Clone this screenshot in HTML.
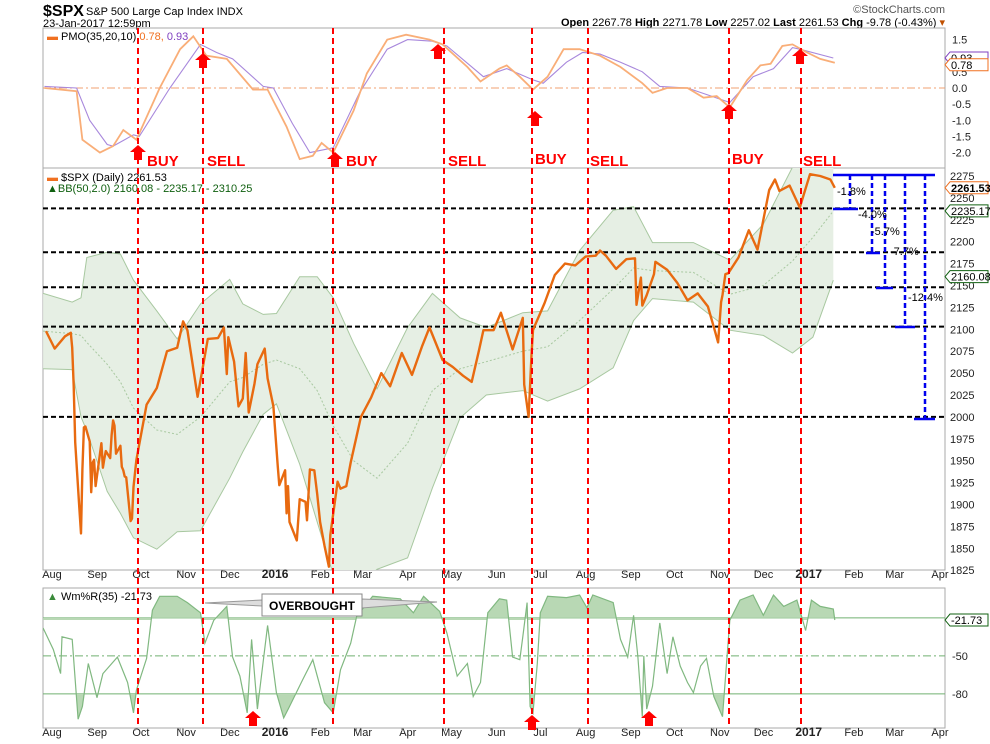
<!DOCTYPE html>
<html><head><meta charset="utf-8"><style>
body{margin:0;background:#fff;font-family:"Liberation Sans",sans-serif}
svg{display:block}
text{font-family:"Liberation Sans",sans-serif}
</style></head><body>
<svg id="c" width="990" height="744" viewBox="0 0 990 744">
<defs>
<clipPath id="cpP"><rect x="43" y="28" width="902" height="140"/></clipPath>
<clipPath id="cpM"><rect x="43" y="168" width="902" height="402"/></clipPath>
<clipPath id="cpW"><rect x="43" y="588" width="902" height="140"/></clipPath>
<clipPath id="cpWtop"><rect x="43" y="588" width="902" height="32"/></clipPath>
<clipPath id="cpWbot"><rect x="43" y="694" width="902" height="34"/></clipPath>
</defs>
<g>
<text x="43" y="16" font-size="16" font-weight="bold">$SPX</text>
<text x="86" y="15" font-size="11">S&amp;P 500 Large Cap Index  INDX</text>
<text x="43" y="27" font-size="11">23-Jan-2017 12:59pm</text>
<text x="945" y="13" font-size="11" fill="#555" text-anchor="end">©StockCharts.com</text>
<text x="945" y="26" font-size="11" text-anchor="end"><tspan font-weight="bold">Open</tspan> 2267.78 <tspan font-weight="bold">High</tspan> 2271.78 <tspan font-weight="bold">Low</tspan> 2257.02 <tspan font-weight="bold">Last</tspan> 2261.53 <tspan font-weight="bold">Chg</tspan> -9.78 (-0.43%) <tspan fill="#c05000">▾</tspan></text>
</g>
<g id="frames"></g>
<g id="pmo" clip-path="url(#cpP)"></g>
<g id="main" clip-path="url(#cpM)"></g>
<g id="wr" clip-path="url(#cpW)"></g>
<g id="axes"></g>
<g id="annot"></g>
</svg>
<script>
const NS="http://www.w3.org/2000/svg";
// ---- data (x = days since 1-Aug-2015) ----
const priceDays=[0,6,13,17,18,19,20,23,24,25,26,27,30,31,32,33,34,38,39,40,41,44,45,46,47,48,51,52,53,54,55,58,59,60,62,69,76,83,90,94,97,104,111,118,122,124,125,129,132,135,137,139,143,145,150,152,156,159,160,164,165,166,167,172,174,178,179,181,184,186,188,191,194,195,200,202,206,209,213,216,223,230,236,244,251,258,263,272,279,286,292,297,300,307,312,320,327,328,331,332,333,334,335,342,349,356,363,370,377,380,384,391,398,404,405,408,409,412,417,418,426,433,440,447,454,459,461,463,464,466,468,475,482,488,496,500,503,510,517,524,531,538,541];
const priceVals=[2098,2078,2092,2096,2079,2035,1971,1893,1867,1940,1988,1989,1972,1914,1948,1951,1921,1970,1942,1952,1961,1953,1979,1996,1990,1958,1967,1943,1939,1932,1931,1881,1884,1920,1951,2014,2033,2075,2079,2109,2099,2023,2089,2090,2102,2049,2091,2063,2012,2021,2073,2005,2038,2060,2078,2044,2012,1943,1922,1939,1890,1921,1880,1859,1906,1903,1882,1940,1939,1912,1880,1853,1829,1865,1926,1918,1921,1948,1978,2000,2022,2050,2035,2073,2048,2081,2102,2065,2057,2047,2040,2076,2099,2099,2119,2077,2113,2037,2000,2036,2071,2099,2103,2130,2162,2175,2173,2183,2184,2190,2184,2169,2180,2181,2128,2159,2127,2139,2163,2177,2168,2153,2133,2141,2126,2097,2085,2131,2139,2163,2164,2182,2213,2191,2259,2271,2258,2264,2239,2277,2275,2271,2261.53];
const bandDays=[-2,18,24,28,42,51,60,76,90,106,126,135,149,158,174,186,197,211,227,248,265,284,302,327,344,366,389,403,416,444,469,492,512,526,540];
const bandUpper=[2141,2131,2136,2182,2188,2186,2156,2121,2089,2129,2157,2129,2117,2118,2160,2160,2136,2084,2032,2102,2141,2113,2102,2119,2121,2190,2236,2240,2199,2199,2179,2220,2285,2300,2310];
const bandLower=[2055,2054,2000,1984,1915,1890,1862,1849,1869,1870,1930,1960,2003,2015,1946,1880,1820,1800,1826,1839,1919,1999,2025,2030,2018,2032,2056,2110,2135,2131,2099,2093,2073,2091,2156];
const bandMid=[2098,2095,2093,2085,2060,2040,2010,1985,1980,2000,2040,2045,2060,2065,2055,2030,1990,1950,1930,1970,2030,2055,2063,2075,2080,2110,2146,2170,2167,2165,2140,2150,2178,2205,2235];
const pmoDays=[-1,21,25,37,46,53,62,78,92,101,110,124,142,152,165,174,183,189,197,211,220,234,247,263,272,289,298,311,316,325,334,344,355,366,380,394,409,416,426,440,451,460,469,481,490,497,505,512,522,531,541];
const pmoVals=[0.0,-0.1,-1.6,-2.0,-1.8,-1.3,-1.6,0.0,1.2,1.6,1.0,0.9,-0.05,-0.05,-1.2,-2.2,-2.1,-1.7,-2.0,-0.7,0.45,1.5,1.65,1.5,1.35,0.65,0.2,0.6,0.7,0.35,-0.05,0.35,1.2,1.2,1.0,0.65,0.15,-0.15,0.0,0.0,-0.3,-0.25,-0.6,0.25,0.7,0.75,1.3,1.35,1.1,0.9,0.78];
const sigDays=[-1,21,30,42,46,60,64,85,106,117,128,149,156,169,181,197,215,234,248,265,275,300,316,334,341,357,368,380,394,409,421,440,453,469,485,499,512,517,540];
const sigVals=[0.05,0.0,-1.0,-1.75,-1.8,-1.45,-1.5,0.0,1.35,1.1,0.9,0.05,0.0,-1.1,-2.0,-1.85,-0.15,1.2,1.5,1.45,1.3,0.35,0.6,0.25,0.15,0.8,1.1,1.05,0.8,0.5,0.05,0.0,-0.2,-0.45,0.35,0.6,1.25,1.2,0.93];
const wrDays=[-2,5,10,11,18,22,25,29,35,39,49,56,60,62,69,73,78,90,97,106,109,115,124,128,133,138,141,145,152,158,163,167,176,183,191,197,202,209,213,224,243,252,259,270,275,282,289,293,298,303,311,316,320,325,327,330,332,334,337,339,344,357,366,371,375,389,394,399,403,406,409,410,412,416,421,426,430,435,440,444,449,453,458,464,469,476,485,492,499,506,515,521,525,531,540,541];
const wrVals=[-28,-45,-64,-35,-37,-100,-90,-56,-83,-64,-51,-71,-95,-77,-52,-14,-3,-3,-8,-16,-40,-22,-11,-51,-66,-95,-37,-92,-26,-79,-99,-90,-69,-53,-87,-95,-61,-40,-19,-3,-5,-16,-3,-15,-32,-66,-56,-82,-71,-16,-5,-6,-51,-53,-35,-8,-90,-95,-56,-16,-3,-4,-2,-12,-2,-8,-37,-51,-18,-51,-98,-50,-92,-74,-24,-64,-35,-58,-71,-79,-58,-52,-82,-98,-22,-6,-2,-18,-2,-11,-6,-30,-6,-11,-13,-21.73];
const monthDays=[0,31,61,92,122,153,184,213,244,274,305,335,366,397,427,458,488,519,550,578,609];
const monthLabels=["Aug","Sep","Oct","Nov","Dec","2016","Feb","Mar","Apr","May","Jun","Jul","Aug","Sep","Oct","Nov","Dec","2017","Feb","Mar","Apr"];
const priceTicks=[2275,2250,2225,2200,2175,2150,2125,2100,2075,2050,2025,2000,1975,1950,1925,1900,1875,1850,1825];
const pmoTicks=[1.5,1.0,0.5,0.0,-0.5,-1.0,-1.5,-2.0];
const supportLevels=[2238,2188,2148,2103,2000];
// ---- scales ----
const X=d=>46+d*1.458;
const Py=p=>176+(2275-p)*0.876;
const My=v=>88-v*32.3;
const Wy=v=>592.5-v*1.267;
function mk(tag,attrs,parent){const e=document.createElementNS(NS,tag);for(const k in attrs)e.setAttribute(k,attrs[k]);parent.appendChild(e);return e;}
const $=id=>document.getElementById(id);
function pts(ds,vs,fy){return ds.map((d,i)=>X(d).toFixed(1)+","+fy(vs[i]).toFixed(1)).join(" ");}
// frames
const fr=$("frames");
[[43,28,902,140],[43,168,902,402],[43,588,902,140]].forEach((r,i)=>{
 const e=mk("rect",{x:r[0],y:r[1],width:r[2],height:r[3],fill:"none",stroke:"#aaa"},fr);
 
 
});
// PMO
const pm=$("pmo");
let z=mk("line",{x1:43,x2:945,y1:My(0),y2:My(0),stroke:"#f0a070","stroke-dasharray":"8,3,2,3"},pm);

let sl=mk("polyline",{points:pts(sigDays,sigVals,My),fill:"none",stroke:"#a888dc","stroke-width":1.1},pm);

let pl=mk("polyline",{points:pts(pmoDays,pmoVals,My),fill:"none",stroke:"#f9ae78","stroke-width":1.8},pm);

let lg=mk("text",{x:47,y:40,"font-size":11},pm);lg.innerHTML='<tspan fill="#f07020">▬</tspan> PMO(35,20,10) <tspan fill="#f07020">0.78,</tspan> <tspan fill="#8040c0">0.93</tspan>';

// Main
const mn=$("main");
const bandPts=bandDays.map((d,i)=>X(d)+","+Py(bandUpper[i])).concat(bandDays.slice().reverse().map((d,j)=>{const i=bandDays.length-1-j;return X(d)+","+Py(bandLower[i]);})).join(" ");
let bf=mk("polygon",{points:bandPts,fill:"#e6efe4",stroke:"none"},mn);

let bu=mk("polyline",{points:pts(bandDays,bandUpper,Py),fill:"none",stroke:"#a8c8a0"},mn);

let bl=mk("polyline",{points:pts(bandDays,bandLower,Py),fill:"none",stroke:"#a8c8a0"},mn);

let bm=mk("polyline",{points:pts(bandDays,bandMid,Py),fill:"none",stroke:"#a8c8a0","stroke-dasharray":"2,2"},mn);

supportLevels.forEach(v=>{
 const e=mk("line",{x1:43,x2:945,y1:Py(v),y2:Py(v),stroke:"#000","stroke-width":2,"stroke-dasharray":"5,3"},mn);
 
});
let pr=mk("polyline",{points:pts(priceDays,priceVals,Py),fill:"none",stroke:"#e86a10","stroke-width":2.4,"stroke-linejoin":"round"},mn);

let l1=mk("text",{x:47,y:181,"font-size":11},mn);l1.innerHTML='<tspan fill="#f07020">▬</tspan> $SPX (Daily) 2261.53';

let l2=mk("text",{x:47,y:192,"font-size":11,fill:"#106010"},mn);l2.textContent='▲BB(50,2.0) 2160.08 - 2235.17 - 2310.25';

// Williams %R
const wr=$("wr");
[-20,-80].forEach(v=>{const e=mk("line",{x1:43,x2:945,y1:Wy(v),y2:Wy(v),stroke:"#70b070"},wr);
 });
let wm=mk("line",{x1:43,x2:945,y1:Wy(-50),y2:Wy(-50),stroke:"#70b070","stroke-dasharray":"8,3,2,3"},wr);

const wline=pts(wrDays,wrVals,Wy);
const x0=X(wrDays[0]),x1=X(wrDays[wrDays.length-1]);
let ft=mk("polygon",{points:x0+","+Wy(-20)+" "+wline+" "+x1+","+Wy(-20),fill:"#b8d8b4","clip-path":"url(#cpWtop)"},wr);

let fb=mk("polygon",{points:x0+","+Wy(-80)+" "+wline+" "+x1+","+Wy(-80),fill:"#b8d8b4","clip-path":"url(#cpWbot)"},wr);

let wl=mk("polyline",{points:wline,fill:"none",stroke:"#80b880","stroke-width":1.2},wr);

let l3=mk("text",{x:47,y:600,"font-size":11},wr);l3.innerHTML='<tspan fill="#3a8a3a">▲</tspan> Wm%R(35) -21.73';

// Axes
const ax=$("axes");
monthDays.forEach((d,i)=>{[578,736].forEach(y=>{
 const bold=monthLabels[i].length===4;
 const t=mk("text",{x:X(d)+6,y:y,"font-size":bold?12:11,"font-weight":bold?"bold":"normal","text-anchor":"middle",fill:"#222"},ax);
 t.textContent=monthLabels[i];
 
});
 [570,728].forEach(y=>{const tk=mk("line",{x1:X(d),x2:X(d),y1:y,y2:y+3,stroke:"#999"},ax);
 });
});
priceTicks.forEach(v=>{const t=mk("text",{x:950,y:Py(v)+4,"font-size":11,fill:"#222"},ax);t.textContent=v;
 });
pmoTicks.forEach(v=>{const t=mk("text",{x:952,y:My(v)+4,"font-size":11,fill:"#222"},ax);t.textContent=v.toFixed(1);
 });
[-50,-80].forEach(v=>{const t=mk("text",{x:952,y:Wy(v)+4,"font-size":11,fill:"#222"},ax);t.textContent=v;
 });
function tag(y,txt,col,bold,name){
 const g=mk("g",{},ax);
 
 mk("polygon",{points:`945,${y} 950,${y-6} 988,${y-6} 988,${y+6} 950,${y+6}`,fill:"#fff",stroke:col},g);
 const t=mk("text",{x:951,y:y+4,"font-size":11,"font-weight":bold?"bold":"normal",fill:"#000"},g);t.textContent=txt;
}
tag(My(0.93),"0.93","#8040c0",false,"pmo-signal-value-tag");
tag(My(0.78)+2,"0.78","#f07020",false,"pmo-value-tag");
tag(Py(2261.53),"2261.53","#f07020",true,"last-price-tag");
tag(Py(2235.17),"2235.17","#106010",false,"bb-middle-tag");
tag(Py(2160.08),"2160.08","#106010",false,"bb-lower-tag");
tag(Wy(-21.73),"-21.73","#106010",false,"wr-value-tag");
// Annotations
const an=$("annot");
[138,203,333,444,532,588,729,801].forEach(x=>{
 const e=mk("line",{x1:x,x2:x,y1:28,y2:728,stroke:"#f00","stroke-width":2,"stroke-dasharray":"6,4"},an);
 
});
[["BUY",147,166],["SELL",207,166],["BUY",346,166],["SELL",448,166],["BUY",535,164],["SELL",590,166],["BUY",732,164],["SELL",803,166]].forEach(s=>{
 const t=mk("text",{x:s[1],y:s[2],"font-size":15,"font-weight":"bold",fill:"#f00"},an);t.textContent=s[0];
 
});
function arrow(x,y,name){const e=mk("polygon",{points:`${x},${y} ${x+8},${y+7} ${x+4},${y+7} ${x+4},${y+15} ${x-4},${y+15} ${x-4},${y+7} ${x-8},${y+7}`,fill:"#f00"},an);
 }
[[138,145],[203,53],[335,152],[438,44],[535,111],[729,104],[800,49]].forEach(a=>arrow(a[0],a[1],'pmo-signal-arrow'));
[[253,711],[532,715],[649,711]].forEach(a=>arrow(a[0],a[1],'oversold-arrow'));
// Overbought callout
let cg=mk("g",{},an);
mk("polygon",{points:"205,603 262,600 262,606",fill:"#ddd",stroke:"#999"},cg);
mk("polygon",{points:"437,602 362,599 362,608",fill:"#ddd",stroke:"#999"},cg);
mk("rect",{x:262,y:594,width:100,height:22,fill:"#fff",stroke:"#888"},cg);
let ot=mk("text",{x:312,y:610,"font-size":12,"font-weight":"bold","text-anchor":"middle"},cg);ot.textContent="OVERBOUGHT";
// Drawdown markers
let dg=mk("g",{stroke:"#0000ee","stroke-width":2.5,fill:"none"},an);
mk("line",{x1:833,x2:935,y1:175,y2:175},dg);
[[850,209,833,858],[872,253,866,880],[885,288,876,893],[905,327,895,915],[925,419,914,935]].forEach(b=>{
 mk("line",{x1:b[0],x2:b[0],y1:175,y2:b[1],"stroke-dasharray":"5,3"},dg);
 mk("line",{x1:b[2],x2:b[3],y1:b[1],y2:b[1]},dg);
});
[["-1.8%",837,195],["-4.0%",858,218],["-5.7%",871,235],["-7.7%",890,255],["-12.4%",908,301]].forEach(l=>{
 const t=mk("text",{x:l[1],y:l[2],"font-size":11,fill:"#000"},an);t.textContent=l[0];
 
});
</script>
</body></html>
